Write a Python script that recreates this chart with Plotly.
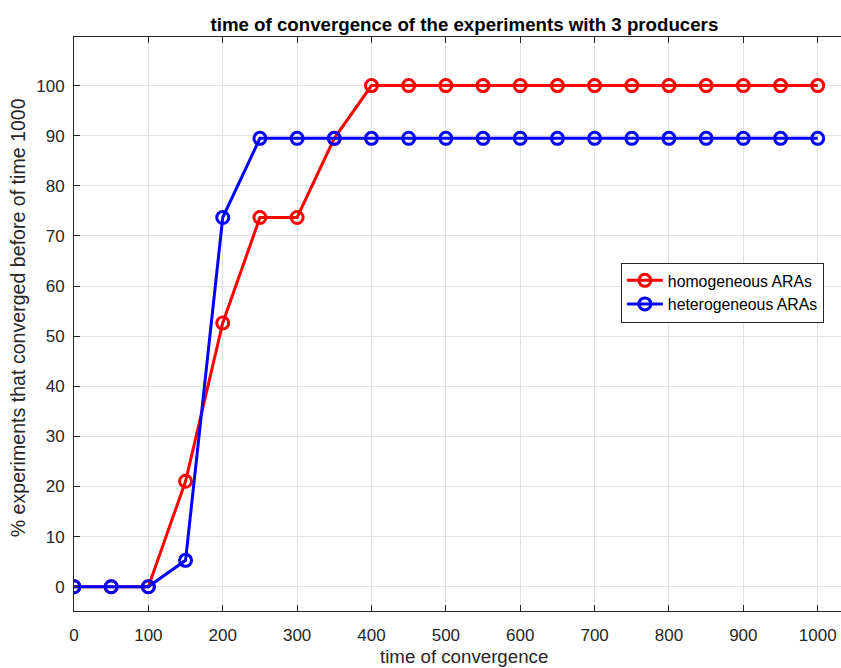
import plotly.graph_objects as go

# convergence time checkpoints and share of experiments converged (%)
times = [0, 50, 100, 150, 200, 250, 300, 350, 400, 450, 500,
         550, 600, 650, 700, 750, 800, 850, 900, 950, 1000]
homogeneous = [0, 0, 0, 21.05, 52.63, 73.68, 73.68, 89.47, 100, 100, 100,
               100, 100, 100, 100, 100, 100, 100, 100, 100, 100]
heterogeneous = [0, 0, 0, 5.26, 73.68, 89.47, 89.47, 89.47, 89.47, 89.47, 89.47,
                 89.47, 89.47, 89.47, 89.47, 89.47, 89.47, 89.47, 89.47, 89.47, 89.47]

x_ticks = list(range(0, 1001, 100))
y_ticks = list(range(0, 101, 10))

FONT = "Liberation Sans, Arial, sans-serif"
AXIS_COLOR = "#262626"
GRID_COLOR = "#e1e1e1"

fig = go.Figure()

series = [
    ("homogeneous ARAs", homogeneous, "#ff0000"),
    ("heterogeneous ARAs", heterogeneous, "#0000ff"),
]
for name, values, color in series:
    fig.add_trace(go.Scatter(
        x=times, y=values, name=name, mode="lines+markers",
        line=dict(color=color, width=3),
        marker=dict(symbol="circle-open", size=12, color=color,
                    line=dict(color=color, width=3)),
    ))

fig.update_layout(
    width=841, height=668,
    margin=dict(l=74, r=0, t=37, b=57),
    paper_bgcolor="white", plot_bgcolor="white",
    font=dict(family=FONT, size=17, color=AXIS_COLOR),
    title=dict(text="<b>time of convergence of the experiments with 3 producers</b>",
               x=0.509, xref="paper", xanchor="center",
               y=1, yref="paper", yanchor="bottom",
               pad=dict(b=6),
               font=dict(family=FONT, size=18.7, color="#000000")),
    legend=dict(
        x=0.713, y=0.607, xanchor="left", yanchor="top",
        bgcolor="white", bordercolor="#262626", borderwidth=1,
        font=dict(family=FONT, size=15.8, color="#000000"),
        tracegroupgap=0, itemwidth=36,
    ),
    showlegend=True,
    annotations=[
        dict(text="time of convergence", xref="paper", yref="paper",
             x=0.509, y=-0.0795, xanchor="center", yanchor="middle",
             showarrow=False,
             font=dict(family=FONT, size=18.7, color=AXIS_COLOR)),
        dict(text="% experiments that converged before of time 1000",
             xref="paper", yref="paper", x=-0.073, y=0.51,
             xanchor="center", yanchor="middle", textangle=-90,
             showarrow=False,
             font=dict(family=FONT, size=19.6, color=AXIS_COLOR)),
    ],
)

fig.update_xaxes(
    range=[0, 1031.3], tickvals=x_ticks, ticktext=[str(v) for v in x_ticks],
    showgrid=True, gridcolor=GRID_COLOR, gridwidth=1,
    showline=True, linecolor=AXIS_COLOR, linewidth=1, mirror="ticks",
    ticks="inside", ticklen=6, tickcolor=AXIS_COLOR,
    zeroline=False, automargin=False, ticklabelstandoff=9,
    tickfont=dict(family=FONT, size=17, color=AXIS_COLOR),
)
fig.update_yaxes(
    range=[-4.85, 109.7], tickvals=y_ticks, ticktext=[str(v) for v in y_ticks],
    showgrid=True, gridcolor=GRID_COLOR, gridwidth=1,
    showline=True, linecolor=AXIS_COLOR, linewidth=1, mirror=False,
    ticks="inside", ticklen=6, tickcolor=AXIS_COLOR,
    zeroline=False, automargin=False, ticklabelstandoff=5,
    tickfont=dict(family=FONT, size=17, color=AXIS_COLOR),
)

fig.write_html("out.html")
